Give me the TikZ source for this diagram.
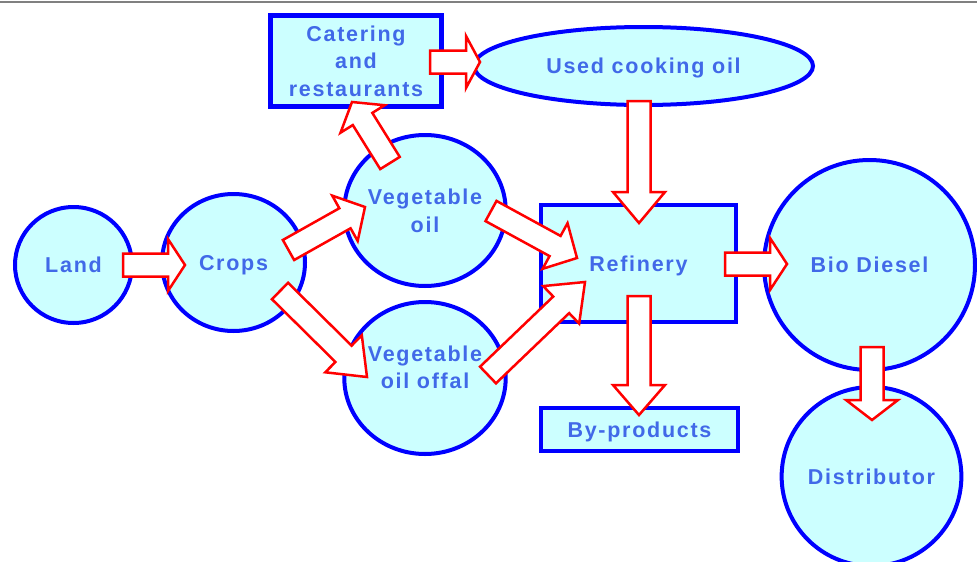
\documentclass[tikz,border=0pt]{standalone}
\usepackage{fontspec}
\setmainfont{Liberation Sans}
\newfontfamily\boxfont[LetterSpace=8]{Liberation Sans}
\usepackage{xcolor}
\usetikzlibrary{shapes.geometric, calc}
\definecolor{flowblue}{HTML}{0000FF}
\definecolor{flowfill}{HTML}{CCFFFF}
\definecolor{flowtext}{HTML}{4169E8}

\newcommand\flowarrow[3][20]{%
  \coordinate (h) at ($(#3)!#1pt!(#2)$);
  \draw[flow] ($(#2)!11.5pt!90:(#3)$) -- ($(h)!11.5pt!90:(#3)$)
    -- ($(h)!26pt!90:(#3)$) -- (#3) -- ($(h)!26pt!-90:(#3)$)
    -- ($(h)!11.5pt!-90:(#3)$) -- ($(#2)!11.5pt!-90:(#3)$) -- cycle;}

\begin{document}
\begin{tikzpicture}[
        x=1pt, y=-1pt,
        stage/.style={ellipse, draw=flowblue, fill=flowfill, line width=4pt,
                      inner sep=0pt, text=flowtext, align=center, text depth=0pt,
                      font=\boxfont\bfseries\fontsize{21.5}{27.5}\selectfont},
        plant/.style={stage, rectangle, line width=4.5pt},
        flow/.style={draw=red, fill=white, line width=2.5pt, line join=miter}
      ]
      \useasboundingbox (0,0) rectangle (977,562);
      \draw[gray, line width=2pt] (0,2) -- (977,2);

      \node[stage, minimum width=117pt, minimum height=116pt] (land) at (73.5,265) {Land};
      \node[stage, minimum width=143pt, minimum height=137pt] (crops) at (233.5,262.5) {Crops};
      \node[stage, minimum width=156pt, minimum height=151pt] (vegoil) at (425,210.5) {Vegetable\\oil};
      \node[stage, minimum width=156pt, minimum height=152pt, text depth=22pt] (offal) at (425,378) {Vegetable\\oil offal};
      \node[plant, minimum width=171pt, minimum height=91pt] (catering) at (356,61) {Catering\\and\\restaurants};
      \node[stage, minimum width=339pt, minimum height=78pt] (usedoil) at (643.5,66) {Used cooking oil};
      \node[plant, minimum width=195pt, minimum height=117pt] (refinery) at (638.5,263.5) {Refinery};
      \node[plant, minimum width=197pt, minimum height=43pt] (byprod) at (639.5,429.5) {By-products};
      \node[stage, minimum width=211pt, minimum height=210pt] (biodiesel) at (869.5,265) {Bio Diesel};
      \node[stage, minimum width=179pt, minimum height=179pt] (distrib) at (871.5,476.5) {Distributor};

      \coordinate (land-out) at (123,265);
      \coordinate (crops-in) at (185,265);
      \coordinate (crops-up) at (288.5,250);
      \coordinate (vegoil-in) at (365,207);
      \coordinate (crops-down) at (280,291);
      \coordinate (offal-in) at (367,377);
      \coordinate (vegoil-up) at (390,163);
      \coordinate (catering-in) at (352,102);
      \coordinate (catering-out) at (430,62);
      \coordinate (usedoil-in) at (480,62);
      \coordinate (usedoil-out) at (639,101);
      \coordinate (refinery-top) at (639,223);
      \coordinate (vegoil-out) at (491,211);
      \coordinate (refinery-upper) at (577,258);
      \coordinate (offal-out) at (488,375);
      \coordinate (refinery-lower) at (585,282);
      \coordinate (refinery-down) at (639,296);
      \coordinate (byprod-in) at (639,415);
      \coordinate (refinery-out) at (725,264);
      \coordinate (biodiesel-in) at (787,264);
      \coordinate (biodiesel-out) at (872,347);
      \coordinate (distrib-in) at (872,420);

      \flowarrow[17]{land-out}{crops-in}
      \flowarrow[23]{crops-up}{vegoil-in}
      \flowarrow[33]{crops-down}{offal-in}
      \flowarrow[20]{vegoil-up}{catering-in}
      \flowarrow[14]{catering-out}{usedoil-in}
      \flowarrow[31]{usedoil-out}{refinery-top}
      \flowarrow[25]{vegoil-out}{refinery-upper}
      \flowarrow[33]{offal-out}{refinery-lower}
      \flowarrow[30]{refinery-down}{byprod-in}
      \flowarrow[17]{refinery-out}{biodiesel-in}
      \flowarrow[20]{biodiesel-out}{distrib-in}
    \end{tikzpicture}
\end{document}
